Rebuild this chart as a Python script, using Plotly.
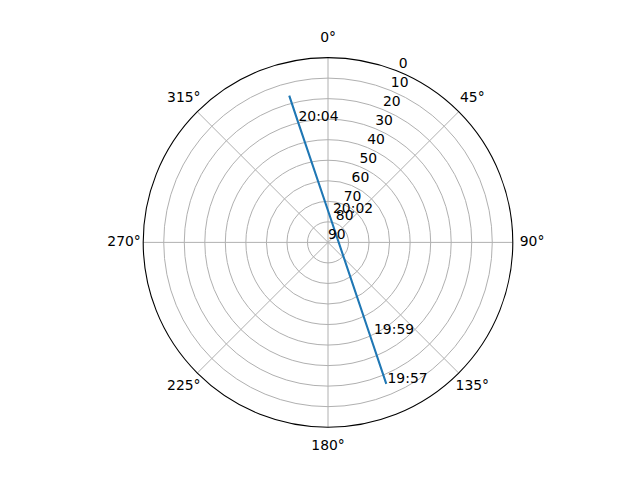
import plotly.graph_objects as go

# satellite pass (azimuth deg, elevation deg)
track_time = ["19:57", "19:59", "20:02", "20:04", "20:04:30"]
track_az = [157.6, 155.6, 1.6, 346.0, 345.2]
track_el = [15.5, 41.0, 75.7, 29.1, 16.1]

# time labels and where they sit
label_text = ["19:57", "19:59", "20:02", "20:04"]
label_az = [156.6, 152.4, 8.6, 346.7]
label_el = [17.0, 41.6, 73.6, 27.5]

el_ticks = [0, 10, 20, 30, 40, 50, 60, 70, 80, 90]
az_ticks = [0, 45, 90, 135, 180, 225, 270, 315]
el_label_az = 22.5  # radial labels sit on this azimuth, kept horizontal

font = dict(family="DejaVu Sans", size=13.9, color="black")

fig = go.Figure()
fig.add_trace(go.Scatterpolar(
    theta=track_az,
    r=track_el,
    mode="lines",
    line={"color": "#1f77b4", "width": 2.1},
    hoverinfo="skip",
))
fig.add_trace(go.Scatterpolar(
    theta=label_az,
    r=label_el,
    mode="text",
    text=label_text,
    textposition="middle right",
    textfont=font,
    hoverinfo="skip",
))
# radial tick labels (plotly rotates its own ones along the axis)
fig.add_trace(go.Scatterpolar(
    theta=[el_label_az] * len(el_ticks),
    r=el_ticks,
    mode="text",
    text=[str(v) for v in el_ticks],
    textposition="top right",
    textfont=font,
    hoverinfo="skip",
    cliponaxis=False,
))
# azimuth labels centred on their direction, on the rim of a slightly bigger hidden polar
fig.add_trace(go.Scatterpolar(
    theta=az_ticks,
    r=[1] * len(az_ticks),
    mode="text",
    text=[f"{a}°" for a in az_ticks],
    textposition="middle center",
    textfont=font,
    hoverinfo="skip",
    cliponaxis=False,
    subplot="polar2",
))

# page body has an 8px margin, so shift the domains to land where the reference is
fig.update_layout(
    width=640,
    height=480,
    margin=dict(l=0, r=0, t=0, b=0),
    paper_bgcolor="white",
    showlegend=False,
    font=font,
    polar=dict(
        domain=dict(x=[0.1125, 0.8875], y=[0.1267, 0.8967]),
        bgcolor="white",
        radialaxis=dict(
            range=[90, 0],
            tickvals=el_ticks,
            showticklabels=False,
            showline=False,
            ticks="",
            gridcolor="#b0b0b0",
            gridwidth=1.1,
        ),
        angularaxis=dict(
            rotation=90,
            direction="clockwise",
            tickvals=az_ticks,
            showticklabels=False,
            showline=True,
            linecolor="black",
            linewidth=1.1,
            ticks="",
            gridcolor="#b0b0b0",
            gridwidth=1.1,
        ),
    ),
    polar2=dict(
        domain=dict(x=[0.1813, 0.8188], y=[0.0867, 0.9367]),
        bgcolor="rgba(0,0,0,0)",
        radialaxis=dict(range=[0, 1], visible=False),
        angularaxis=dict(
            rotation=90,
            direction="clockwise",
            showticklabels=False,
            showline=False,
            showgrid=False,
            ticks="",
        ),
    ),
)

fig.write_html("out.html")
